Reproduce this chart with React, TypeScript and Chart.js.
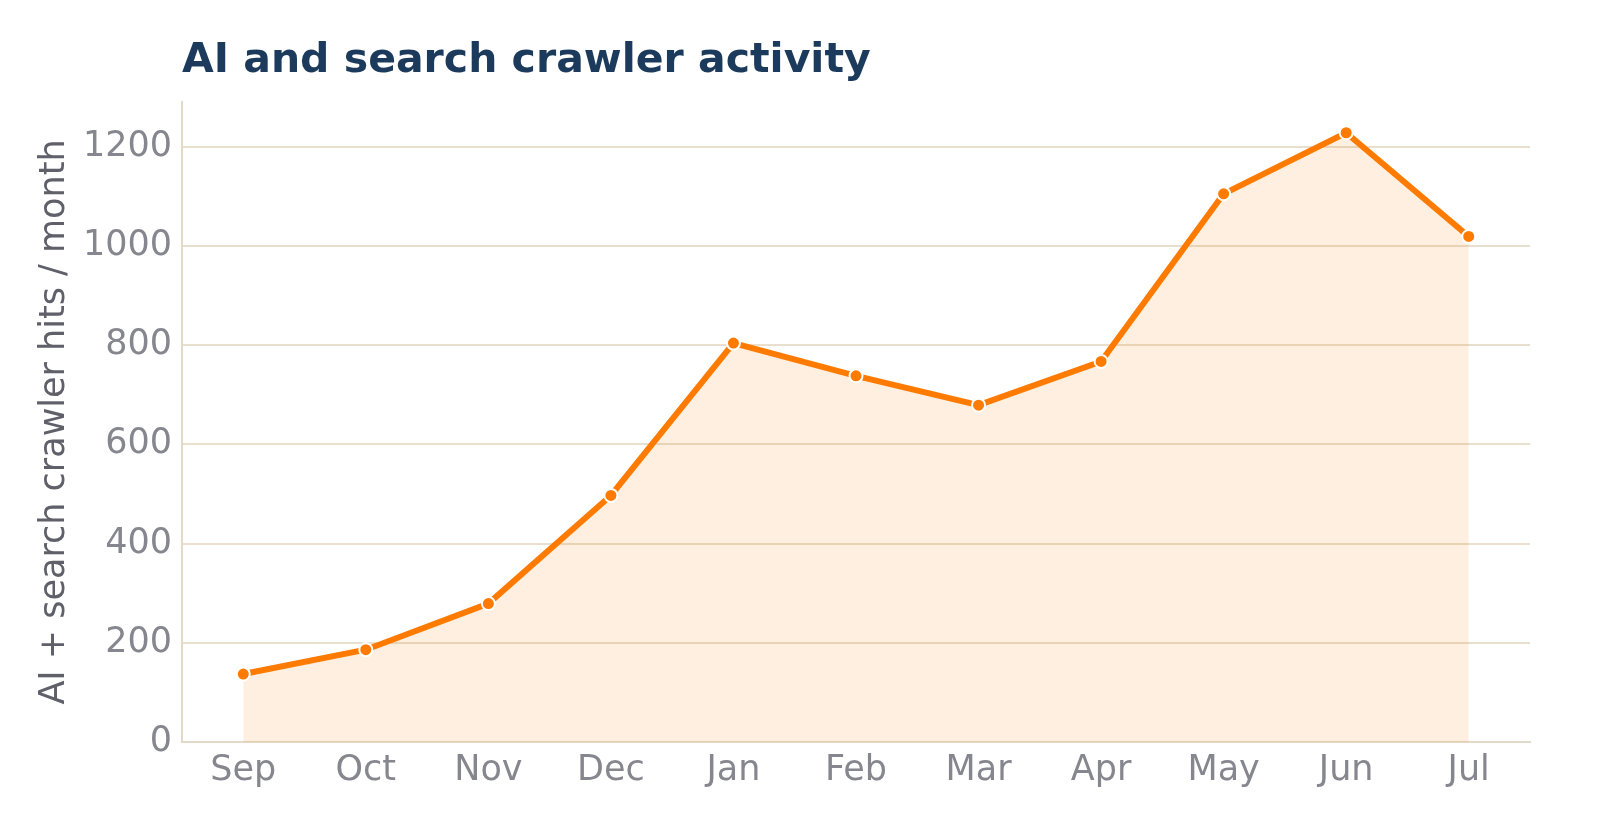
import React, { useEffect, useRef } from 'react';
import { Chart, registerables } from 'chart.js';

Chart.register(...registerables);

const months = ['Sep', 'Oct', 'Nov', 'Dec', 'Jan', 'Feb', 'Mar', 'Apr', 'May', 'Jun', 'Jul'];
const hits = [137, 186, 279, 497, 804, 738, 679, 767, 1105, 1228, 1019];
const yTicks = [0, 200, 400, 600, 800, 1000, 1200];
const yMax = 1290;

const chartTitle = 'AI and search crawler activity';
const yLabel = 'AI + search crawler hits / month';

const FONT = "'DejaVu Sans', sans-serif";

// titre dessiné à la main, aligné sur le bord gauche de la zone du graphique
const titlePlugin = {
  id: 'leftTitle',
  afterDraw(chart: Chart) {
    const { ctx, chartArea } = chart;
    ctx.save();
    ctx.font = `bold 41px ${FONT}`;
    ctx.fillStyle = '#1b3a5c';
    ctx.textAlign = 'left';
    ctx.textBaseline = 'alphabetic';
    ctx.fillText(chartTitle, chartArea.left, 72);
    ctx.restore();
  },
};

export default function App() {
  const canvasRef = useRef<HTMLCanvasElement>(null);

  useEffect(() => {
    if (!canvasRef.current) return;
    const chart = new Chart(canvasRef.current, {
      type: 'line',
      data: {
        labels: months,
        datasets: [
          {
            data: hits,
            borderColor: '#ff7b00',
            borderWidth: 6,
            backgroundColor: 'rgba(255, 123, 0, 0.12)',
            fill: 'origin',
            tension: 0,
            pointRadius: 6.5,
            pointBackgroundColor: '#ff7b00',
            pointBorderColor: '#ffffff',
            pointBorderWidth: 2,
          },
        ],
      },
      options: {
        responsive: false,
        animation: false,
        layout: { padding: { top: 102, right: 70, bottom: 0, left: 0 } },
        plugins: {
          legend: { display: false },
          tooltip: { enabled: false },
          title: { display: false },
        },
        scales: {
          x: {
            offset: true,
            grid: { display: false, drawTicks: false },
            border: { display: true, color: '#e3d9c8', width: 2 },
            ticks: {
              color: '#86868e',
              font: { family: FONT, size: 35 },
              padding: 8,
              maxRotation: 0,
            },
            afterFit: (scale: any) => {
              scale.height = 98;
            },
          },
          y: {
            min: 0,
            max: yMax,
            grid: { color: '#e8dfcf', lineWidth: 2, drawTicks: false },
            border: { display: true, color: '#e3d9c8', width: 2 },
            ticks: {
              color: '#86868e',
              font: { family: FONT, size: 35 },
              padding: 10,
              callback: (v: any) => String(v),
            },
            afterBuildTicks: (scale: any) => {
              scale.ticks = yTicks.map((v) => ({ value: v }));
            },
            afterFit: (scale: any) => {
              scale.width = 182;
            },
            title: {
              display: true,
              text: yLabel,
              color: '#60606a',
              font: { family: FONT, size: 35 },
              padding: { top: 34, bottom: 0 },
            },
          },
        },
      },
      plugins: [titlePlugin],
    });
    return () => chart.destroy();
  }, []);

  return (
    <div style={{ position: 'fixed', left: 0, top: 0, width: 1600, height: 840, background: '#fff' }}>
      <canvas ref={canvasRef} width={1600} height={840} />
    </div>
  );
}
